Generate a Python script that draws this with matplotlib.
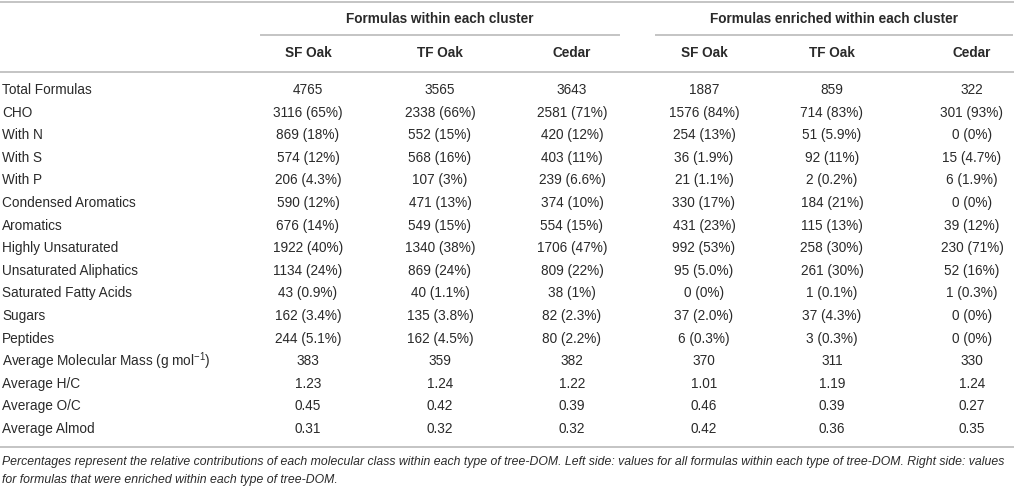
import matplotlib.pyplot as plt

plt.rcParams['font.family'] = ['Liberation Sans', 'DejaVu Sans']
plt.rcParams['mathtext.fontset'] = 'custom'
plt.rcParams['mathtext.rm'] = 'Liberation Sans'
plt.rcParams['mathtext.it'] = 'Liberation Sans:italic'
plt.rcParams['mathtext.bf'] = 'Liberation Sans:bold'

# table content
groups = ["Formulas within each cluster", "Formulas enriched within each cluster"]
columns = ["SF Oak", "TF Oak", "Cedar", "SF Oak", "TF Oak", "Cedar"]
row_labels = [
    "Total Formulas", "CHO", "With N", "With S", "With P",
    "Condensed Aromatics", "Aromatics", "Highly Unsaturated",
    "Unsaturated Aliphatics", "Saturated Fatty Acids", "Sugars", "Peptides",
    r"Average Molecular Mass (g mol$^{-1}$)", "Average H/C", "Average O/C",
    "Average Almod",
]
sf_oak_all = ["4765", "3116 (65%)", "869 (18%)", "574 (12%)", "206 (4.3%)",
              "590 (12%)", "676 (14%)", "1922 (40%)", "1134 (24%)", "43 (0.9%)",
              "162 (3.4%)", "244 (5.1%)", "383", "1.23", "0.45", "0.31"]
tf_oak_all = ["3565", "2338 (66%)", "552 (15%)", "568 (16%)", "107 (3%)",
              "471 (13%)", "549 (15%)", "1340 (38%)", "869 (24%)", "40 (1.1%)",
              "135 (3.8%)", "162 (4.5%)", "359", "1.24", "0.42", "0.32"]
cedar_all = ["3643", "2581 (71%)", "420 (12%)", "403 (11%)", "239 (6.6%)",
             "374 (10%)", "554 (15%)", "1706 (47%)", "809 (22%)", "38 (1%)",
             "82 (2.3%)", "80 (2.2%)", "382", "1.22", "0.39", "0.32"]
sf_oak_enr = ["1887", "1576 (84%)", "254 (13%)", "36 (1.9%)", "21 (1.1%)",
              "330 (17%)", "431 (23%)", "992 (53%)", "95 (5.0%)", "0 (0%)",
              "37 (2.0%)", "6 (0.3%)", "370", "1.01", "0.46", "0.42"]
tf_oak_enr = ["859", "714 (83%)", "51 (5.9%)", "92 (11%)", "2 (0.2%)",
              "184 (21%)", "115 (13%)", "258 (30%)", "261 (30%)", "1 (0.1%)",
              "37 (4.3%)", "3 (0.3%)", "311", "1.19", "0.39", "0.36"]
cedar_enr = ["322", "301 (93%)", "0 (0%)", "15 (4.7%)", "6 (1.9%)",
             "0 (0%)", "39 (12%)", "230 (71%)", "52 (16%)", "1 (0.3%)",
             "0 (0%)", "0 (0%)", "330", "1.24", "0.27", "0.35"]
footnote = ("Percentages represent the relative contributions of each molecular class within each type of tree-DOM. "
            "Left side: values for all formulas within each type of tree-DOM. Right side: values\n"
            "for formulas that were enriched within each type of tree-DOM.")

cols_data = [sf_oak_all, tf_oak_all, cedar_all, sf_oak_enr, tf_oak_enr, cedar_enr]

W, H = 1014, 503
fig = plt.figure(figsize=(W / 100, H / 100), dpi=100)
ax = fig.add_axes([0, 0, 1, 1])
ax.set_xlim(0, W)
ax.set_ylim(H, 0)
ax.axis("off")

txt = "#2a2a2a"
rule = "#c4c4c4"
fs = 9.8
col_x = [308, 440, 572, 704, 832, 972]
group_span = [(261, 619), (656, 1012)]

# rules
ax.plot([0, W], [2, 2], color=rule, lw=1.4)
for x0, x1 in group_span:
    ax.plot([x0, x1], [34.5, 34.5], color=rule, lw=1.4)
ax.plot([0, W], [71.5, 71.5], color=rule, lw=1.4)
ax.plot([0, W], [447, 447], color=rule, lw=1.4)

# headers
for (x0, x1), g in zip(group_span, groups):
    ax.text((x0 + x1) / 2, 19, g, ha="center", va="center", fontsize=fs,
            fontweight="bold", color=txt)
for x, c in zip(col_x, columns):
    ax.text(x, 53, c, ha="center", va="center", fontsize=fs,
            fontweight="bold", color=txt)

# body
y0, dy = 90, 22.6
for i, lab in enumerate(row_labels):
    y = y0 + i * dy
    ax.text(2, y, lab, ha="left", va="center", fontsize=fs, color=txt)
    for x, col in zip(col_x, cols_data):
        ax.text(x, y, col[i], ha="center", va="center", fontsize=fs, color=txt)

ax.text(2, 456, footnote, ha="left", va="top", fontsize=8.85, style="italic",
        color=txt, linespacing=1.7)

fig.savefig("out.png", dpi=100)
